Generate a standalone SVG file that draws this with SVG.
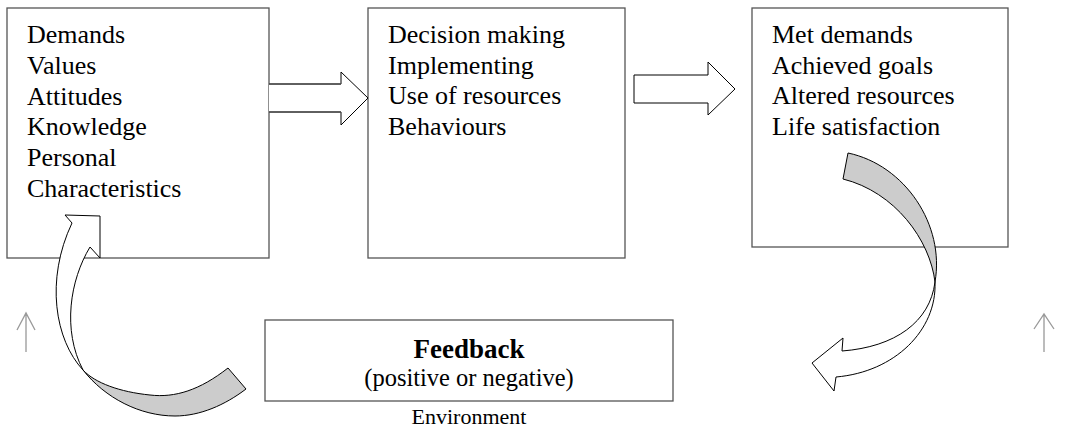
<svg xmlns="http://www.w3.org/2000/svg" width="1066" height="432" viewBox="0 0 1066 432">
<style>
.box{fill:#fff;stroke:#555;stroke-width:1.3}
.t{font-family:"Liberation Serif","Times New Roman",serif;font-size:26px;fill:#000}
.arrow{fill:#fff;stroke:#000;stroke-width:1}
.shaft{stroke:#555;stroke-width:1.3;fill:none}
.gray{fill:#ccc;stroke:#000;stroke-width:1}
.up{stroke:#999;stroke-width:1.3;fill:none}
</style>
<rect width="1066" height="432" fill="#fff"/>
<g id="node-inputs">
<rect class="box" x="7" y="8" width="262" height="250"/>
<text class="t" x="27" y="43">Demands</text>
<text class="t" x="27" y="73.8">Values</text>
<text class="t" x="27" y="104.6">Attitudes</text>
<text class="t" x="27" y="135.4">Knowledge</text>
<text class="t" x="27" y="166.2">Personal</text>
<text class="t" x="27" y="197">Characteristics</text>
</g>
<g id="node-throughput">
<rect class="box" x="368" y="8" width="257" height="250"/>
<text class="t" x="388" y="43">Decision making</text>
<text class="t" x="388" y="73.7">Implementing</text>
<text class="t" x="388" y="104.4">Use of resources</text>
<text class="t" x="388" y="135.1">Behaviours</text>
</g>
<g id="node-outputs">
<rect class="box" x="752" y="8" width="256" height="239"/>
<text class="t" x="772" y="43">Met demands</text>
<text class="t" x="772" y="73.7">Achieved goals</text>
<text class="t" x="772" y="104.4">Altered resources</text>
<text class="t" x="772" y="135.1">Life satisfaction</text>
</g>
<g id="node-feedback">
<rect class="box" x="265" y="320" width="408" height="81"/>
<text class="t" x="469" y="358" text-anchor="middle" font-weight="bold" style="font-size:27px">Feedback</text>
<text class="t" x="469" y="386" text-anchor="middle" style="font-size:24.5px">(positive or negative)</text>
</g>
<g id="label-environment">
<text class="t" x="469" y="424" text-anchor="middle" style="font-size:22px">Environment</text>
</g>
<g id="connectors">
<path class="arrow" d="M269,84 L341,84 L341,72 L368,98 L341,125 L341,112 L269,112"/>
<path class="shaft" d="M269,84 L341,84 M269,112 L341,112"/>
<path class="arrow" d="M634,75 L708,75 L708,62 L735,89 L708,115 L708,103 L634,103 Z"/>
<path class="gray" d="M848,153 C905,165 945,225 935,282 C930,240 895,192 843,179 Z"/>
<path class="arrow" d="M935,282 C930,322 895,347 842,351 L843,338 L812,363 L834,391 L836,377 C895,372 937,330 935,282 Z"/>
<path class="gray" d="M228,368 C200,390 175,398 150,395 C120,392 95,383 83,370 C105,398 140,416 175,416 C200,416 225,405 246,389 Z"/>
<path class="arrow" d="M83,370 C55,340 45,280 72,223 L65,215 L100,216 L100,258 L90,247 C70,280 62,330 83,370 Z"/>
<path class="up" d="M26,352 L26,313 M17,330 L26,313 L35,330"/>
<path class="up" d="M1044,352 L1044,314 M1034,329 L1044,314 L1054,329"/>
</g>
</svg>
